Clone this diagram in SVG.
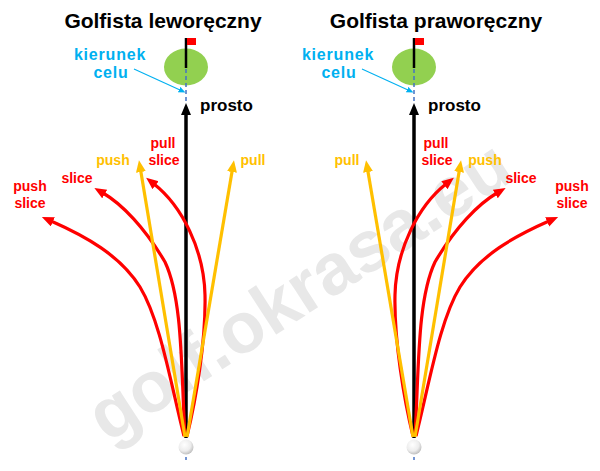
<svg xmlns="http://www.w3.org/2000/svg" width="600" height="471" viewBox="0 0 600 471">
<style>
text{font-family:"Liberation Sans",Arial,sans-serif;font-weight:bold;text-anchor:middle}
.title{font-size:21px;fill:#000}
.aim{font-size:16px;fill:#00B0F0;letter-spacing:0.8px}
.straight{font-size:17px;fill:#000;text-anchor:start}
.lr{font-size:14px;fill:#FF0000}
.ly{font-size:14px;fill:#FFC000}
.wm{font-size:72px;fill:#E8E8E8}
.red{fill:none;stroke:#FF0000;stroke-width:3.2;marker-end:url(#ar)}
.yel{fill:none;stroke:#FFC000;stroke-width:3.2;marker-end:url(#ay)}
.blk{fill:none;stroke:#000;stroke-width:3.5;marker-end:url(#ab)}
.cy{fill:none;stroke:#00B0F0;stroke-width:1.1;marker-end:url(#ac)}
.dash{stroke:#4472C4;stroke-width:1.5;stroke-dasharray:4 3}
.pole{stroke:#000;stroke-width:2.5}
</style>
<defs>
<marker id="ar" markerUnits="userSpaceOnUse" markerWidth="14" markerHeight="12" refX="2" refY="5" orient="auto"><path d="M0,0 L12,5 L0,10 z" fill="#FF0000"/></marker>
<marker id="ay" markerUnits="userSpaceOnUse" markerWidth="14" markerHeight="12" refX="2" refY="5" orient="auto"><path d="M0,0 L12,5 L0,10 z" fill="#FFC000"/></marker>
<marker id="ab" markerUnits="userSpaceOnUse" markerWidth="14" markerHeight="12" refX="2" refY="5" orient="auto"><path d="M0,0 L12,5 L0,10 z" fill="#000"/></marker>
<marker id="ac" markerUnits="userSpaceOnUse" markerWidth="8" markerHeight="7" refX="1" refY="3" orient="auto"><path d="M0,0 L7,3 L0,6 z" fill="#00B0F0"/></marker>
<radialGradient id="ball" cx="0.4" cy="0.35" r="0.7"><stop offset="0" stop-color="#FFFFFF"/><stop offset="0.6" stop-color="#EDEDED"/><stop offset="1" stop-color="#B8B8B8"/></radialGradient>
</defs>
<rect width="600" height="471" fill="#fff"/>
<text class="wm" transform="translate(302,295) rotate(-33)" x="0" y="19">golf.okrasa.eu</text>

<g id="left-golfer">
<text class="title" x="163" y="28">Golfista leworęczny</text>
<g id="left-green">
<ellipse cx="186" cy="67" rx="22" ry="18.5" fill="#92D050"/>
<line class="pole" x1="186" y1="38" x2="186" y2="68"/>
<rect x="187" y="38" width="9" height="7" fill="#FF0000"/>
<line class="dash" x1="186" y1="69" x2="186" y2="101"/>
</g>
<g id="left-ball">
<circle cx="186" cy="447" r="7.5" fill="url(#ball)"/>
<line class="dash" x1="186" y1="457" x2="186" y2="460"/>
</g>
<g id="left-labels">
<text class="aim" x="110" y="60">kierunek</text>
<text class="aim" x="111" y="78">celu</text>
<text class="straight" x="200" y="111">prosto</text>
<text class="ly" x="113" y="165">push</text>
<text class="lr" x="163" y="148">pull</text>
<text class="lr" x="164" y="165">slice</text>
<text class="ly" x="253" y="165">pull</text>
<text class="lr" x="77" y="183">slice</text>
<text class="lr" x="30" y="191">push</text>
<text class="lr" x="30" y="208">slice</text>
</g>
</g>

<g id="right-golfer">
<text class="title" x="436" y="28">Golfista praworęczny</text>
<g id="right-green">
<ellipse cx="414" cy="67" rx="22" ry="18.5" fill="#92D050"/>
<line class="pole" x1="414" y1="38" x2="414" y2="68"/>
<rect x="415" y="38" width="9" height="7" fill="#FF0000"/>
<line class="dash" x1="414" y1="69" x2="414" y2="101"/>
</g>
<g id="right-ball">
<circle cx="414" cy="447" r="7.5" fill="url(#ball)"/>
<line class="dash" x1="414" y1="457" x2="414" y2="460"/>
</g>
<g id="right-labels">
<text class="aim" x="338" y="60">kierunek</text>
<text class="aim" x="339" y="78">celu</text>
<text class="straight" x="428" y="111">prosto</text>
<text class="ly" x="347" y="165">pull</text>
<text class="lr" x="436" y="148">pull</text>
<text class="lr" x="437" y="165">slice</text>
<text class="ly" x="485" y="165">push</text>
<text class="lr" x="521" y="183">slice</text>
<text class="lr" x="572" y="191">push</text>
<text class="lr" x="572" y="208">slice</text>
</g>
</g>

<g id="connectors">
<path class="cy" d="M134,69 L180,90"/>
<path class="cy" d="M362,69 L408,90"/>
<path class="blk" d="M186,438 L186,113"/>
<path class="blk" d="M414,438 L414,113"/>
<path class="red" d="M184,436 C170,380 160,320 140,287 C120,255 85,236 51,221"/>
<path class="red" d="M185,436 C181,370 183,300 165,262 C145,228 122,204 103,193"/>
<path class="red" d="M187,436 C196,400 206,340 205,295 C204,250 182,206 154,184"/>
<path class="red" d="M416,436 C430,380 440,320 460,287 C480,255 515,236 549,221"/>
<path class="red" d="M415,436 C419,370 417,300 435,262 C455,228 478,204 497,193"/>
<path class="red" d="M413,436 C404,400 394,340 395,295 C396,250 418,206 446,184"/>
<path class="yel" d="M185,437 L140.6,170"/>
<path class="yel" d="M187,437 L232.3,170"/>
<path class="yel" d="M413,437 L367.7,170"/>
<path class="yel" d="M415,437 L459.4,170"/>
</g>
</svg>
